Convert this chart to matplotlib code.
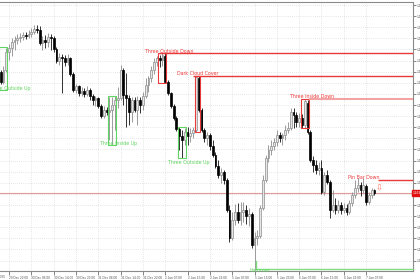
import matplotlib
matplotlib.use("Agg")
import matplotlib.pyplot as plt
from matplotlib.patches import Rectangle
from matplotlib.transforms import blended_transform_factory
import numpy as np

opens = [1.17397,1.17307,1.17415,1.17577,1.17613,1.17667,1.17685,1.17703,1.17712,1.17730,
1.17721,1.17739,1.17757,1.17784,1.17775,1.17658,1.17685,1.17667,1.17712,1.17703,
1.17604,1.17496,1.17532,1.17523,1.17487,1.17523,1.17379,1.17235,1.17271,1.17208,
1.17226,1.17199,1.17235,1.17181,1.17145,1.17163,1.17091,1.17001,1.17055,1.17037,
1.17055,1.17100,1.17145,1.17163,1.17415,1.17190,1.17163,1.17037,1.17145,1.17055,
1.17145,1.17100,1.17181,1.17280,1.17343,1.17415,1.17487,1.17523,1.17505,1.17541,
1.17307,1.17208,1.17091,1.16983,1.16884,1.16821,1.16785,1.16857,1.16821,1.16848,
1.16875,1.17343,1.17055,1.16875,1.16803,1.16830,1.16731,1.16650,1.16551,1.16470,
1.16497,1.16425,1.16155,1.15903,1.16065,1.16137,1.16065,1.16137,1.16155,1.16101,
1.16119,1.15840,1.15903,1.15921,1.16173,1.16425,1.16623,1.16695,1.16731,1.16767,
1.16830,1.16803,1.16830,1.16875,1.16893,1.17037,1.17010,1.16947,1.16983,1.16920,
1.17118,1.16857,1.16605,1.16560,1.16515,1.16533,1.16317,1.16470,1.16407,1.16155,
1.16200,1.16155,1.16200,1.16155,1.16173,1.16137,1.16218,1.16290,1.16353,1.16380,
1.16335,1.16371,1.16227,1.16290,1.16335]

highs = [1.17415,1.17451,1.17613,1.17649,1.17703,1.17721,1.17739,1.17748,1.17757,1.17757,
1.17775,1.17793,1.17820,1.17820,1.17811,1.17721,1.17730,1.17748,1.17739,1.17721,
1.17622,1.17568,1.17559,1.17550,1.17559,1.17532,1.17397,1.17289,1.17280,1.17262,
1.17253,1.17271,1.17253,1.17199,1.17181,1.17172,1.17109,1.17091,1.17082,1.17172,
1.17172,1.17181,1.17262,1.17460,1.17433,1.17388,1.17190,1.17172,1.17172,1.17181,
1.17172,1.17217,1.17343,1.17361,1.17451,1.17523,1.17541,1.17550,1.17568,1.17568,
1.17325,1.17217,1.17109,1.17001,1.16902,1.16875,1.16893,1.16902,1.16893,1.16902,
1.17361,1.17361,1.17073,1.16893,1.16857,1.16848,1.16785,1.16677,1.16605,1.16533,
1.16515,1.16443,1.16200,1.16137,1.16209,1.16218,1.16227,1.16227,1.16200,1.16173,
1.16137,1.15957,1.15975,1.16200,1.16470,1.16650,1.16740,1.16785,1.16803,1.16875,
1.16857,1.16848,1.16920,1.16947,1.17073,1.17073,1.17037,1.17028,1.17019,1.17154,
1.17145,1.16875,1.16641,1.16605,1.16587,1.16605,1.16497,1.16515,1.16425,1.16335,
1.16263,1.16245,1.16227,1.16218,1.16209,1.16245,1.16317,1.16425,1.16443,1.16407,
1.16443,1.16389,1.16317,1.16353,1.16344]

lows = [1.17289,1.17289,1.17397,1.17505,1.17541,1.17595,1.17649,1.17667,1.17685,1.17694,
1.17703,1.17712,1.17739,1.17748,1.17640,1.17595,1.17613,1.17622,1.17595,1.17577,
1.17478,1.17460,1.17208,1.17451,1.17460,1.17361,1.17217,1.17208,1.17181,1.17181,
1.17172,1.17181,1.17145,1.17100,1.17091,1.17073,1.16983,1.16983,1.17010,1.16785,
1.16740,1.16875,1.17073,1.17145,1.17100,1.16902,1.16920,1.16947,1.17037,1.16920,
1.17028,1.17055,1.17163,1.17217,1.17307,1.17379,1.17451,1.17442,1.17451,1.17298,
1.17190,1.17073,1.16965,1.16866,1.16695,1.16623,1.16740,1.16740,1.16767,1.16803,
1.16857,1.17037,1.16857,1.16767,1.16740,1.16695,1.16632,1.16533,1.16443,1.16398,
1.16389,1.16137,1.15867,1.15885,1.16020,1.16038,1.16020,1.16047,1.16029,1.16011,
1.15813,1.15615,1.15840,1.15903,1.16155,1.16407,1.16587,1.16650,1.16695,1.16731,
1.16767,1.16740,1.16785,1.16848,1.16875,1.16893,1.16902,1.16902,1.16893,1.16893,
1.16839,1.16587,1.16497,1.16479,1.16470,1.16299,1.16290,1.16389,1.16083,1.16137,
1.16119,1.16128,1.16119,1.16128,1.16110,1.16119,1.16191,1.16263,1.16317,1.16281,
1.16308,1.16200,1.16209,1.16263,1.16290]

closes = [1.17307,1.17415,1.17577,1.17613,1.17667,1.17685,1.17703,1.17712,1.17730,1.17721,
1.17739,1.17757,1.17784,1.17775,1.17658,1.17685,1.17667,1.17712,1.17703,1.17604,
1.17496,1.17532,1.17523,1.17487,1.17523,1.17379,1.17235,1.17271,1.17208,1.17226,
1.17199,1.17235,1.17181,1.17145,1.17163,1.17091,1.17001,1.17055,1.17037,1.17055,
1.17100,1.17145,1.17163,1.17415,1.17190,1.17163,1.17037,1.17145,1.17055,1.17145,
1.17100,1.17181,1.17280,1.17343,1.17415,1.17487,1.17523,1.17505,1.17550,1.17307,
1.17208,1.17091,1.16983,1.16884,1.16821,1.16785,1.16857,1.16821,1.16848,1.16875,
1.17352,1.17055,1.16875,1.16803,1.16830,1.16731,1.16650,1.16551,1.16470,1.16497,
1.16425,1.16155,1.15903,1.16065,1.16137,1.16065,1.16137,1.16155,1.16101,1.16119,
1.15840,1.15903,1.15921,1.16173,1.16425,1.16623,1.16695,1.16731,1.16767,1.16830,
1.16803,1.16830,1.16875,1.16893,1.17037,1.17010,1.16947,1.16983,1.16920,1.17136,
1.16857,1.16605,1.16560,1.16515,1.16533,1.16317,1.16470,1.16407,1.16155,1.16200,
1.16155,1.16200,1.16155,1.16173,1.16137,1.16218,1.16290,1.16353,1.16380,1.16335,
1.16380,1.16227,1.16290,1.16335,1.16308]

tick_labels = ["29 Dec 22:00", "30 Dec 06:00", "30 Dec 14:00", "30 Dec 22:00",
               "31 Dec 06:00", "31 Dec 14:00", "31 Dec 22:00", "2 Jan 07:00",
               "2 Jan 15:00", "2 Jan 23:00", "5 Jan 07:00", "5 Jan 15:00",
               "5 Jan 23:00", "6 Jan 07:00", "6 Jan 15:00", "6 Jan 23:00",
               "7 Jan 07:00"]
tick_bars = [3, 11, 19, 27, 35, 43, 51, 59, 67, 75, 83, 91, 99, 107, 115, 123, 131]
price_ticks = [1.15700, 1.15800, 1.15900, 1.16000, 1.16100, 1.16200, 1.16300, 1.16400,
               1.16500, 1.16600, 1.16700, 1.16800, 1.16900, 1.17000, 1.17100, 1.17200,
               1.17300, 1.17400, 1.17500, 1.17600, 1.17700, 1.17800, 1.17900, 1.18000]

# pattern boxes: name, first bar, last bar, low, high, kind
patterns = [
    ("Three Outside Up", 0, 2, 1.17235, 1.17622, "bull"),
    ("Three Inside Up", 39, 41, 1.16740, 1.17181, "bull"),
    ("Three Outside Up", 64, 66, 1.16623, 1.16902, "bull"),
    ("Three Outside Down", 57, 59, 1.17298, 1.17568, "bear"),
    ("Dark Cloud Cover", 70, 71, 1.16857, 1.17361, "bear"),
    ("Three Inside Down", 108, 110, 1.16893, 1.17154, "bear"),
]
# label positions (bar, price)
labels = [
    ("Three Outside Up", 3.4, 1.17253, "bull"),
    ("Three Inside Up", 42.4, 1.16758, "bull"),
    ("Three Outside Up", 67.3, 1.16587, "bull"),
    ("Three Outside Down", 60.6, 1.17586, "bear"),
    ("Dark Cloud Cover", 70.6, 1.17388, "bear"),
    ("Three Inside Down", 111.6, 1.17181, "bear"),
    ("Pin Bar Down", 130.0, 1.16452, "bear"),
    ("Hammer", 92.8, 1.15612, "bull"),
]
# level lines: start bar, price, style
levels = [
    (56.6, 1.17568, "strong"),
    (69.0, 1.17361, "strong"),
    (110.4, 1.17154, "soft"),
    (135.3, 1.16425, "strong"),
]
hammer_start = 91.4
hammer_level = 1.15624
current_price = 1.16308

GREEN = "#62d462"
RED = "#e83a3a"
TICKFONT = "Liberation Sans"

fig = plt.figure(figsize=(4.2, 2.8), dpi=100)
ax = fig.add_axes([0.0, 0.0321, 0.9833, 0.9607])
ax.set_facecolor("white")
n = len(closes)
x = np.arange(n)
o = np.array(opens); h = np.array(highs); l = np.array(lows); c = np.array(closes)
bull = c >= o

ax.set_xlim(-0.226, 147.8)
ax.set_ylim(1.15606, 1.18027)

ax.set_yticks(price_ticks)
ax.set_yticklabels(["" if abs(p - current_price) < 0.0003 else f"{p:.5f}" for p in price_ticks],
                   family=TICKFONT)
ax.set_xticks(tick_bars)
ax.set_xticklabels(tick_labels, ha="left", family=TICKFONT)
ax.yaxis.tick_right()
ax.tick_params(axis="x", length=3, width=0.5, pad=0.3, labelsize=2.3, colors="#555555")
ax.tick_params(axis="y", length=2, width=0.5, pad=0.8, labelsize=2.3, colors="#555555")
ax.grid(True, linestyle=(0, (1, 2)), color="#cfcfcf", linewidth=0.5)
ax.set_axisbelow(True)
for s in ["top", "right", "bottom"]:
    ax.spines[s].set_color("#8a8a8a")
    ax.spines[s].set_linewidth(0.8)
ax.spines["left"].set_visible(False)

# current price line
ax.axhline(current_price, color="#e39a9a", lw=0.8, zorder=1)

# wicks and bodies
ax.vlines(x[bull], l[bull], h[bull], color="#8c8c8c", lw=0.6, zorder=2)
ax.vlines(x[~bull], l[~bull], h[~bull], color="#111111", lw=0.6, zorder=2)
bw = 0.65
ax.bar(x[bull], np.maximum(c[bull] - o[bull], 0.00002), bw, bottom=o[bull],
       color="#e6e6e6", edgecolor="#8c8c8c", linewidth=0.5, zorder=3)
ax.bar(x[~bull], np.maximum(o[~bull] - c[~bull], 0.00002), bw, bottom=c[~bull],
       color="#000000", edgecolor="#000000", linewidth=0.5, zorder=3)

# pattern boxes
for name, b0, b1, lo, hi, kind in patterns:
    col = GREEN if kind == "bull" else RED
    ax.add_patch(Rectangle((b0 - 0.45, lo), b1 - b0 + 0.9, hi - lo, fill=False,
                           edgecolor=col, lw=0.8, zorder=4))

# level lines
for b, p, style in levels:
    if style == "strong":
        ax.plot([b, 147.8], [p, p], color=RED, lw=1.0, zorder=4, solid_capstyle="butt")
    else:
        ax.plot([b, 147.8], [p, p], color="#f3a3a3", lw=1.5, zorder=4, solid_capstyle="butt")

# hammer support
ax.plot([hammer_start, hammer_start, 147.8], [1.15700, hammer_level, hammer_level],
        color="#7fdf7f", lw=1.0, zorder=4, clip_on=False)

for txt, bx, py, kind in labels:
    col = "#5fd35f" if kind == "bull" else "#f03a3a"
    ax.text(bx, py, txt, color=col, fontsize=3.4, ha="center", va="center", zorder=5,
            clip_on=False)

# pin bar arrow
ax.text(135.6, 1.16355, "\u21e9", color="#ff6a5a", fontsize=6, ha="center", va="center",
        zorder=5)

# partial first date label
ax.text(1.6, -0.013, "26 Dec 2025", transform=blended_transform_factory(ax.transData, ax.transAxes),
        fontsize=2.3, family=TICKFONT, color="#555555", ha="right", va="top", clip_on=False)

# current price tag
ax.text(1.0, current_price, f"{current_price:.5f}",
        transform=blended_transform_factory(ax.transAxes, ax.transData),
        fontsize=2.3, family=TICKFONT, color="white", ha="left", va="center", clip_on=False,
        zorder=6, bbox=dict(boxstyle="square,pad=0.25", fc="#e01010", ec="#e01010"))

fig.savefig("out.png", dpi=100, facecolor="white")
